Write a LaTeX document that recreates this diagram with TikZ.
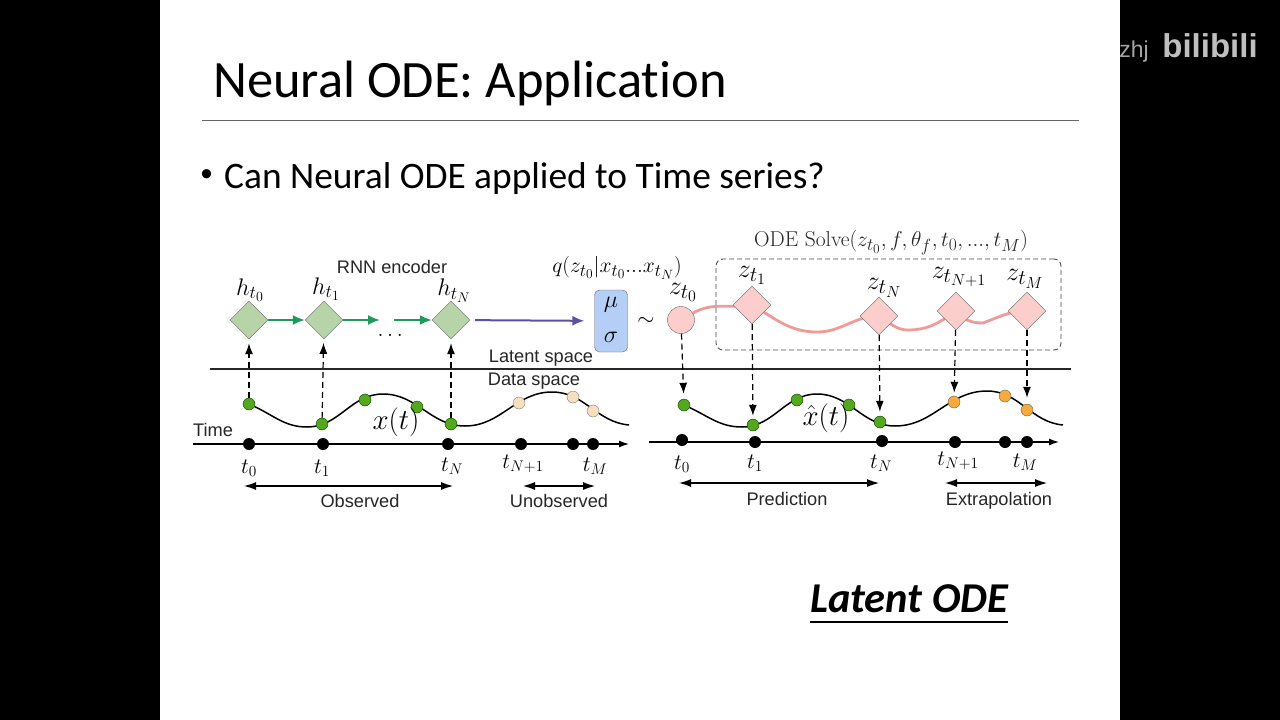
\documentclass[tikz,border=0pt]{standalone}
\usepackage{fix-cm}
\usepackage{amsmath}
\usepackage{fontspec}
\newfontfamily\slidefont[Ligatures=NoCommon]{Carlito}
\newfontfamily\labelfont{Liberation Sans}
\usetikzlibrary{positioning, arrows.meta, shapes.geometric, backgrounds}
\DeclareMathSizes{21.5}{21.5}{17.5}{13.5}
\DeclareMathSizes{24}{24}{18}{14}
\DeclareMathSizes{26}{26}{21}{16}
\definecolor{encgreen}{HTML}{B7D3A8}
\definecolor{linkgreen}{HTML}{1E9A5C}
\definecolor{dotgreen}{HTML}{55A81E}
\definecolor{linkpurple}{HTML}{5B50A6}
\definecolor{decpink}{HTML}{FBCDCB}
\definecolor{curvepink}{HTML}{F09A9A}
\definecolor{boxblue}{HTML}{B4CEF6}
\definecolor{paleorange}{HTML}{F6DFBC}
\definecolor{dotorange}{HTML}{F6AB3C}

\begin{document}
\begin{tikzpicture}[
    x=1pt, y=-1pt,
    >=Latex,
    enc/.style={draw=black!60, diamond, fill=encgreen, minimum width=38pt, minimum height=38pt, inner sep=0pt},
    dec/.style={draw=black!60, diamond, fill=decpink, minimum width=38pt, minimum height=38pt, inner sep=0pt},
    obs/.style={draw=green!25!black, circle, fill=dotgreen, minimum size=12pt, inner sep=0pt},
    hid/.style={draw=black!50, circle, fill=paleorange, minimum size=12pt, inner sep=0pt},
    pred/.style={draw=black!60, circle, fill=dotorange, minimum size=12pt, inner sep=0pt},
    tick/.style={circle, fill=black, minimum size=12pt, inner sep=0pt},
    mathlbl/.style={font=\fontsize{22}{24}\selectfont, inner sep=0pt},
    hlbl/.style={font=\fontsize{24}{26}\selectfont, inner sep=0pt},
    zlbl/.style={font=\fontsize{26}{28}\selectfont, inner sep=0pt},
    lbl/.style={font=\fontsize{18.2}{20}\labelfont, text=black!85, inner sep=0pt},
    arrow/.style={-{Latex[length=12pt,width=10pt]}},
    axis/.style={-{Latex[length=10pt,width=7pt]}, line width=1.3pt},
    span/.style={{Latex[length=12pt,width=8pt]}-{Latex[length=12pt,width=8pt]}, line width=1.1pt},
    dasharrow/.style={-{Latex[length=11pt,width=8pt]}, line width=1.2pt, dash pattern=on 6pt off 4pt},
    curve/.style={line width=1.5pt, black},
    enclink/.style={arrow, line width=2pt, linkgreen},
    deccurve/.style={line width=2.8pt, curvepink}
]
\begin{scope}[on background layer]
\fill[black] (0,0) rectangle (1280,720);
\fill[white] (160,0) rectangle (1120,720);
\end{scope}
% slide text
\node[font=\fontsize{52.5}{56}\slidefont, anchor=west, inner sep=0pt] (title) at (213,84) {Neural ODE: Application};
\coordinate (ruleL) at (202,120);
\coordinate (ruleR) at (1079,120);
\draw[black!60] (ruleL) -- (ruleR);
\node[font=\fontsize{26}{30}\slidefont, anchor=west, inner sep=0pt] (bullet) at (200,176) {•};
\node[font=\fontsize{37.4}{40}\slidefont, anchor=west, inner sep=0pt] (question) at (224,179) {Can Neural ODE applied to Time series?};
\node[font=\fontsize{42.5}{46}\slidefont\bfseries\itshape, inner sep=0pt] (latent) at (909,599) {Latent ODE};
\coordinate (underL) at (810,622);
\coordinate (underR) at (1008,622);
\draw[line width=1.3pt] (underL) -- (underR);
% watermark
\node[font=\fontsize{23}{26}\labelfont, text=black!35, inner sep=0pt] (user) at (1134,52) {zhj};
\node[font=\fontsize{33}{38}\labelfont\bfseries, text=black!25, inner sep=0pt] (logo) at (1210,46) {bilibili};

% encoder
\node[lbl] (rnn) at (392,267) {RNN encoder};
\node[enc] (h0) at (249,320) {};
\node[enc] (h1) at (324,320) {};
\node[enc] (hN) at (451,320) {};
\coordinate (gapL) at (380,320);
\coordinate (gapR) at (394,320);
\node[hlbl] (hl0) at (250,290) {$h_{t_0}$};
\node[hlbl] (hl1) at (326,289) {$h_{t_1}$};
\node[hlbl] (hlN) at (454,291) {$h_{t_N}$};
\node[mathlbl] (dots) at (392,335) {$\dots$};
\node[draw=black!60, rounded corners=5pt, fill=boxblue, minimum width=33pt, minimum height=62pt, inner sep=0pt] (dist) at (611,321) {};
\node[hlbl] (mu) at (611,305) {$\mu$};
\node[hlbl] (sigma) at (611,337) {$\sigma$};
\node[font=\fontsize{21.5}{24}\selectfont, inner sep=0pt] (qdist) at (617,268) {$q(z_{t_0}|x_{t_0}...x_{t_N})$};
\node[mathlbl] (tilde) at (646,321) {$\sim$};
\draw[enclink] (h0) -- (h1);
\draw[enclink] (h1) -- (gapL);
\draw[enclink] (gapR) -- (hN);
\draw[arrow, line width=2pt, linkpurple, shorten <=5pt, shorten >=10pt] (hN) -- (dist);

% latent trajectory
\node[draw=black!60, circle, fill=decpink, minimum size=27pt, inner sep=0pt] (z0) at (681,320) {};
\node[dec] (z1) at (752,305) {};
\node[dec] (zN) at (879,316) {};
\node[dec] (zN1) at (956,311) {};
\node[dec] (zM) at (1027,311) {};
\coordinate (dipA) at (817,332);
\coordinate (dipB) at (908,330);
\coordinate (dipC) at (983,323);
\node[zlbl] (zl0) at (683,292) {$z_{t_0}$};
\node[zlbl] (zl1) at (752,275) {$z_{t_1}$};
\node[zlbl] (zlN) at (884,288) {$z_{t_N}$};
\node[zlbl] (zlN1) at (959,277) {$z_{t_{N+1}}$};
\node[zlbl] (zlM) at (1025,279) {$z_{t_M}$};
\node[draw=black!70, line width=0.9pt, dash pattern=on 5pt off 3pt, rounded corners=7pt, minimum width=345pt, minimum height=91pt, inner sep=0pt] (solver) at (888.5,304.5) {};
\node[inner sep=0pt, font=\fontsize{21.5}{24}\selectfont, text=black!85] (solve) at (891,243) {ODE Solve$(z_{t_0},f,\theta_f,t_0,...,t_M)$};

% space divider
\coordinate (divL) at (210,369);
\coordinate (divR) at (1071,369);
\draw[line width=1.3pt, black!85] (divL) -- (divR);
\node[lbl] (lspace) at (541,358) {Latent space};
\node[lbl] (dspace) at (534,381) {Data space};

% observed side
\node[obs] (a0) at (249,404) {};
\node[obs] (a1) at (322,424) {};
\node[obs] (a2) at (365,400) {};
\node[obs] (a3) at (417,407) {};
\node[obs] (aN) at (451,424) {};
\node[hid] (a5) at (519,403) {};
\node[hid] (a6) at (573,397) {};
\node[hid] (aM) at (593,411) {};
\coordinate (aLow) at (307,427);
\coordinate (aTop) at (383,394);
\coordinate (aLowB) at (465,426);
\coordinate (aTopB) at (552,392);
\coordinate (aEnd) at (629,425);
\node[font=\fontsize{29}{32}\selectfont, inner sep=0pt] (xt) at (396,422) {$x(t)$};
\node[lbl] (time) at (213,430) {Time};
\coordinate (axisAL) at (193,444);
\coordinate (axisAR) at (629,444);
\draw[axis] (axisAL) -- (axisAR);
\node[tick] (ta0) at (249,444) {};
\node[tick] (ta1) at (323,444) {};
\node[tick] (taN) at (448,444) {};
\node[tick] (ta5) at (521,444) {};
\node[tick] (ta6) at (573,444) {};
\node[tick] (taM) at (593,444) {};
\node[mathlbl] (la0) at (249,468) {$t_0$};
\node[mathlbl] (la1) at (322,468) {$t_1$};
\node[mathlbl] (laN) at (452,466) {$t_N$};
\node[mathlbl] (la5) at (523,464) {$t_{N+1}$};
\node[mathlbl] (laM) at (595,466) {$t_M$};
\coordinate (obsL) at (244,486);
\coordinate (obsR) at (453,486);
\coordinate (unoL) at (523,486);
\coordinate (unoR) at (595,486);
\draw[span] (obsL) -- (obsR);
\draw[span] (unoL) -- (unoR);
\node[lbl] (obslbl) at (360,501) {Observed};
\node[lbl] (unolbl) at (559,501) {Unobserved};
\draw[dasharrow, shorten >=4pt] (a0) -- (h0);
\draw[dasharrow, shorten >=4pt] (a1) -- (h1);
\draw[dasharrow, shorten >=4pt] (aN) -- (hN);

% predicted side
\node[obs] (b0) at (684,405) {};
\node[obs] (b1) at (753,425) {};
\node[obs] (b2) at (797,400) {};
\node[obs] (b3) at (849,405) {};
\node[obs] (bN) at (880,422) {};
\node[pred] (b5) at (954,402) {};
\node[pred] (b6) at (1005,396) {};
\node[pred] (bM) at (1027,410) {};
\coordinate (bLow) at (742,427);
\coordinate (bTop) at (817,394);
\coordinate (bLowB) at (895,426);
\coordinate (bTopB) at (987,391);
\coordinate (bEnd) at (1063,425);
\node[font=\fontsize{29}{32}\selectfont, inner sep=0pt] (xhat) at (826,418) {$\hat{x}(t)$};
\coordinate (axisBL) at (649,442);
\coordinate (axisBR) at (1059,442);
\draw[axis] (axisBL) -- (axisBR);
\node[tick] (tb0) at (682,440) {};
\node[tick] (tb1) at (755,442) {};
\node[tick] (tbN) at (882,441) {};
\node[tick] (tb5) at (955,442) {};
\node[tick] (tb6) at (1005,442) {};
\node[tick] (tbM) at (1027,442) {};
\node[mathlbl] (lb0) at (682,464) {$t_0$};
\node[mathlbl] (lb1) at (755,463) {$t_1$};
\node[mathlbl] (lbN) at (881,463) {$t_N$};
\node[mathlbl] (lb5) at (958,461) {$t_{N+1}$};
\node[mathlbl] (lbM) at (1025,462) {$t_M$};
\coordinate (preL) at (679,483);
\coordinate (preR) at (879,483);
\coordinate (extL) at (945,483);
\coordinate (extR) at (1047,483);
\draw[span] (preL) -- (preR);
\draw[span] (extL) -- (extR);
\node[lbl] (prelbl) at (787,499) {Prediction};
\node[lbl] (extlbl) at (999,501) {Extrapolation};
\draw[dasharrow, shorten >=5pt] (z0) -- (b0);
\draw[dasharrow, shorten >=3pt] (z1) -- (b1);
\draw[dasharrow, shorten >=4pt] (zN) -- (bN);
\draw[dasharrow, shorten >=3pt] (zN1) -- (b5);
\draw[dasharrow, shorten >=6pt] (zM) -- (bM);

% curves go under the nodes
\begin{scope}[on background layer]
\draw[curve] (a0) to[out=-25,in=180] (aLow) to[out=0,in=180] (aTop) to[out=0,in=180] (aLowB) to[out=0,in=180] (aTopB) to[out=0,in=175] (aEnd);
\draw[curve] (b0) to[out=-25,in=180] (bLow) to[out=0,in=180] (bTop) to[out=0,in=180] (bLowB) to[out=0,in=180] (bTopB) to[out=0,in=175] (bEnd);
\draw[deccurve] (z0) to[out=30,in=190] (z1.center) to[out=-30,in=180] (dipA) to[out=0,in=180] (zN.center) to[out=-30,in=180] (dipB) to[out=0,in=215] (zN1.center) to[out=-50,in=180] (dipC) to[out=20,in=180] (zM.center);
\end{scope}
\end{tikzpicture}
\end{document}
